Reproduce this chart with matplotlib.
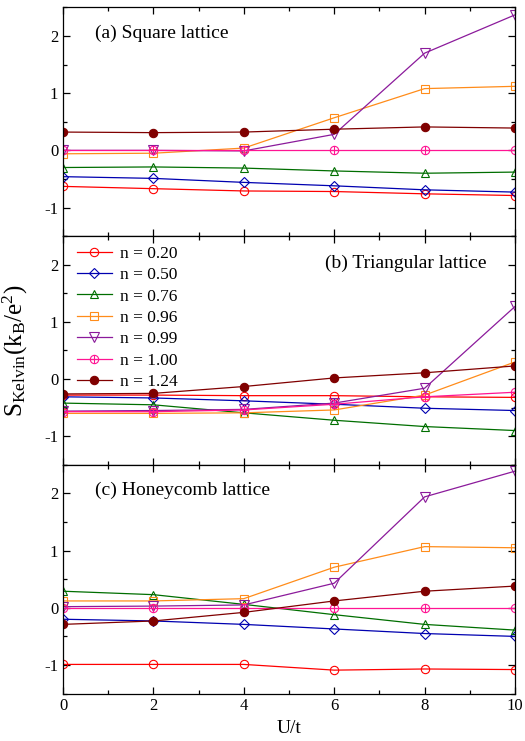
import numpy as np
import matplotlib
matplotlib.use("Agg")
import matplotlib.pyplot as plt
from matplotlib.path import Path
from matplotlib.ticker import MultipleLocator

plt.rcParams['font.family'] = ['Liberation Serif', 'DejaVu Serif']
plt.rcParams['mathtext.fontset'] = 'custom'
plt.rcParams['mathtext.rm'] = 'Liberation Serif'
plt.rcParams['mathtext.it'] = 'Liberation Serif:italic'
plt.rcParams['axes.unicode_minus'] = False

# ---- data ----
U = [0, 2, 4, 6, 8, 10]
labels = ["n = 0.20", "n = 0.50", "n = 0.76", "n = 0.96", "n = 0.99", "n = 1.00", "n = 1.24"]

square = [
    [-0.63, -0.67, -0.71, -0.72, -0.76, -0.79],
    [-0.46, -0.49, -0.56, -0.62, -0.69, -0.73],
    [-0.30, -0.29, -0.31, -0.36, -0.40, -0.38],
    [-0.06, -0.05, 0.04, 0.57, 1.08, 1.12],
    [0.00, 0.00, -0.01, 0.28, 1.70, 2.37],
    [0.00, 0.00, 0.00, 0.00, 0.00, 0.00],
    [0.32, 0.31, 0.32, 0.37, 0.41, 0.39],
]
triangular = [
    [-0.28, -0.28, -0.29, -0.29, -0.31, -0.32],
    [-0.31, -0.33, -0.38, -0.44, -0.51, -0.55],
    [-0.42, -0.45, -0.59, -0.72, -0.83, -0.90],
    [-0.60, -0.60, -0.59, -0.54, -0.28, 0.30],
    [-0.56, -0.55, -0.53, -0.42, -0.16, 1.27],
    [-0.57, -0.57, -0.54, -0.44, -0.31, -0.23],
    [-0.26, -0.25, -0.13, 0.02, 0.11, 0.23],
]
honeycomb = [
    [-0.99, -0.99, -0.99, -1.09, -1.07, -1.08],
    [-0.20, -0.23, -0.29, -0.37, -0.45, -0.50],
    [0.29, 0.23, 0.06, -0.12, -0.29, -0.39],
    [0.12, 0.12, 0.16, 0.71, 1.07, 1.05],
    [0.02, 0.03, 0.05, 0.43, 1.94, 2.39],
    [0.00, 0.00, 0.00, 0.00, 0.00, 0.00],
    [-0.29, -0.23, -0.08, 0.12, 0.29, 0.38],
]
panels = [
    ("(a) Square lattice", square),
    ("(b) Triangular lattice", triangular),
    ("(c) Honeycomb lattice", honeycomb),
]

# circle with a cross inside
circ = Path.unit_circle()
cross = Path([(-1, 0), (1, 0), (0, -1), (0, 1)],
             [Path.MOVETO, Path.LINETO, Path.MOVETO, Path.LINETO])
oplus = Path.make_compound_path(circ, cross)

colors = ['#ff0000', '#0000b0', '#006e00', '#ff8c1a', '#8b1a9b', '#ff1493', '#800000']
markers = ['o', 'D', '^', 's', 'v', oplus, 'o']
msizes = [6, 5.5, 6, 5.5, 6.5, 6, 6]
filled = [False, False, False, False, False, False, True]

fig, axes = plt.subplots(3, 1, sharex=True, figsize=(5.25, 7.41), dpi=100)
fig.subplots_adjust(left=0.12, right=0.981, top=0.99, bottom=0.064, hspace=0)

for i, (ax, (title, data)) in enumerate(zip(axes, panels)):
    for k in range(len(labels)):
        ax.plot(U, data[k], color=colors[k], marker=markers[k], markersize=msizes[k],
                markerfacecolor=colors[k] if filled[k] else 'none',
                markeredgecolor=colors[k], markeredgewidth=0.8, linewidth=0.9,
                label=labels[k])
    ax.set_xlim(0, 10)
    ax.set_ylim(-1.5, 2.5)
    ax.xaxis.set_major_locator(MultipleLocator(2))
    ax.xaxis.set_minor_locator(MultipleLocator(1))
    ax.yaxis.set_major_locator(MultipleLocator(1))
    ax.yaxis.set_minor_locator(MultipleLocator(0.5))
    ax.tick_params(which='both', direction='in', top=True, right=True, labelsize=12)
    ax.tick_params(which='major', length=5, width=0.9)
    ax.tick_params(which='minor', length=3, width=0.9)
    for s in ax.spines.values():
        s.set_linewidth(0.9)
    if i == 1:
        ax.text(9.36, 2.02, title, fontsize=14, ha='right', va='center')
    else:
        ax.text(0.7, 2.05, title, fontsize=14, ha='left', va='center')

axes[1].legend(loc='upper left', bbox_to_anchor=(0.01, 1.0), frameon=False, fontsize=12.5,
               handlelength=2.0, handletextpad=0.45, labelspacing=0.3, borderaxespad=0.15)
axes[1].set_ylabel(r'S$_{\mathrm{Kelvin}}$(k$_{\mathrm{B}}$/e$^{2}$)', fontsize=18, labelpad=10)
axes[2].set_xlabel('U/t', fontsize=14)

fig.savefig('out.png', dpi=100)
